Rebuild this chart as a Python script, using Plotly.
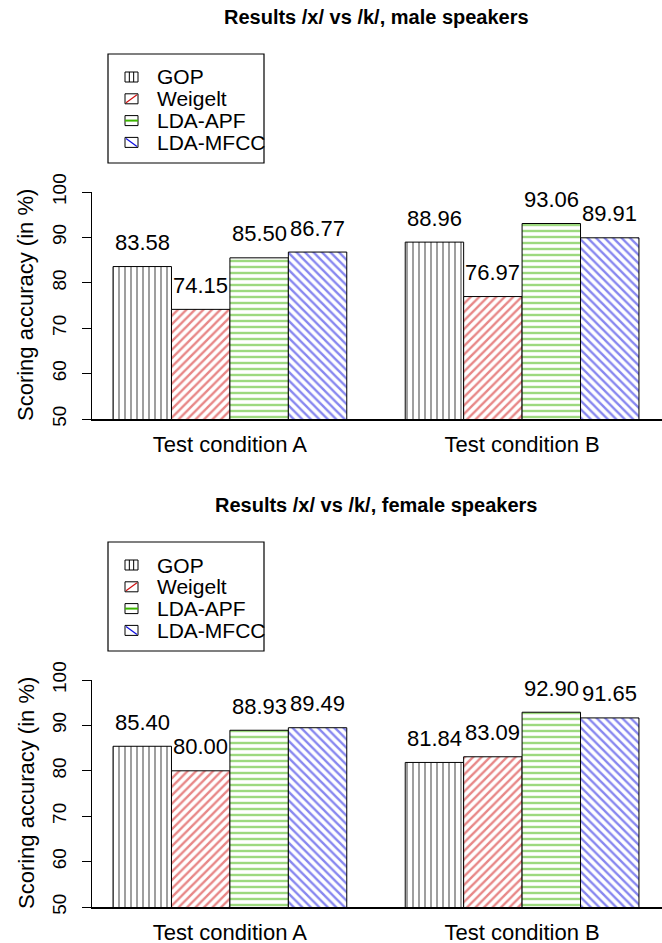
import plotly.graph_objects as go

# ---------------- data ----------------
conditions = ["Test condition A", "Test condition B"]
methods = ["GOP", "Weigelt", "LDA-APF", "LDA-MFCC"]
male_values = {
    "GOP": [83.58, 88.96],
    "Weigelt": [74.15, 76.97],
    "LDA-APF": [85.50, 93.06],
    "LDA-MFCC": [86.77, 89.91],
}
female_values = {
    "GOP": [85.40, 81.84],
    "Weigelt": [80.00, 83.09],
    "LDA-APF": [88.93, 92.90],
    "LDA-MFCC": [89.49, 91.65],
}
titles = ["Results /x/ vs /k/, male speakers", "Results /x/ vs /k/, female speakers"]
y_title = "Scoring accuracy (in %)"
y_ticks = [50, 60, 70, 80, 90, 100]

# ---------------- style ----------------
colors = {"GOP": "black", "Weigelt": "#D01010", "LDA-APF": "#3CB400", "LDA-MFCC": "#1010E0"}
solid = {"GOP": 0.25, "Weigelt": 0.4, "LDA-APF": 0.4, "LDA-MFCC": 0.4}
shapes_pat = {"GOP": "|", "Weigelt": "/", "LDA-APF": "-", "LDA-MFCC": "\\"}
FONT = "Liberation Sans, Arial, sans-serif"
W, H = 662, 943


def px(xp):
    return xp / W


def py(yp):
    return 1 - yp / H


n_m = len(methods)
group_stride = n_m + 1  # R barplot beside=TRUE, space=c(0,1)


def bar_x(g, i):
    return 1 + g * group_stride + i + 0.5


n_units = len(conditions) * group_stride - 1
group_centers = [1 + g * group_stride + n_m / 2 for g in range(len(conditions))]
x_range = [1 - 0.04 * n_units, 1 + n_units + 0.04 * n_units]

fig = go.Figure()
annotations = []
shapes = []

panels = [(male_values, 0), (female_values, 488)]
for p, (vals, off) in enumerate(panels):
    xa = "x" if p == 0 else "x2"
    ya = "y" if p == 0 else "y2"
    for i, m in enumerate(methods):
        xs = [bar_x(g, i) for g in range(len(conditions))]
        fig.add_trace(go.Bar(
            x=xs, y=vals[m], width=1, name=m, showlegend=False,
            xaxis=xa, yaxis=ya,
            marker=dict(color="white",
                        line=dict(color="black", width=1),
                        pattern=dict(shape=shapes_pat[m], fgcolor=colors[m], bgcolor="white",
                                     size=6, solidity=solid[m], fillmode="overlay")),
        ))
        for g in range(len(conditions)):
            annotations.append(dict(
                x=xs[g], y=vals[m][g], xref=xa, yref=ya, text=f"{vals[m][g]:.2f}",
                showarrow=False, yshift=24, yanchor="middle", xanchor="center",
                font=dict(family=FONT, size=22, color="black")))
    # title
    annotations.append(dict(x=px(376), y=py(17 + off), xref="paper", yref="paper",
                            text=f"<b>{titles[p]}</b>", showarrow=False,
                            xanchor="center", yanchor="middle",
                            font=dict(family=FONT, size=20, color="black")))
    # y title
    annotations.append(dict(x=px(26), y=py(305 + off), xref="paper", yref="paper",
                            text=y_title, textangle=-90, showarrow=False,
                            xanchor="center", yanchor="middle",
                            font=dict(family=FONT, size=22, color="black")))
    # legend box
    shapes.append(dict(type="rect", xref="paper", yref="paper",
                       x0=px(108), x1=px(264), y0=py(54 + off), y1=py(163 + off),
                       line=dict(color="black", width=1.2), fillcolor="white", layer="below"))
    for i, m in enumerate(methods):
        cy = 77 + off + i * 21.8
        x0s, x1s, y0s, y1s = 125, 138, cy - 5, cy + 5
        shapes.append(dict(type="rect", xref="paper", yref="paper",
                           x0=px(x0s), x1=px(x1s), y0=py(y1s), y1=py(y0s),
                           line=dict(color="black", width=1), fillcolor="white"))
        c = colors[m]
        sp = shapes_pat[m]
        if sp == "|":
            for k in (1, 2):
                xx = x0s + k * (x1s - x0s) / 3
                shapes.append(dict(type="line", xref="paper", yref="paper",
                                   x0=px(xx), x1=px(xx), y0=py(y0s), y1=py(y1s),
                                   line=dict(color=c, width=1)))
        elif sp == "-":
            shapes.append(dict(type="line", xref="paper", yref="paper",
                               x0=px(x0s), x1=px(x1s), y0=py(cy), y1=py(cy),
                               line=dict(color=c, width=2)))
        elif sp == "/":
            shapes.append(dict(type="line", xref="paper", yref="paper",
                               x0=px(x0s + 1), x1=px(x1s - 1), y0=py(y1s - 1), y1=py(y0s + 1),
                               line=dict(color=c, width=1.2)))
        else:
            shapes.append(dict(type="line", xref="paper", yref="paper",
                               x0=px(x0s + 1), x1=px(x1s - 1), y0=py(y0s + 1), y1=py(y1s - 1),
                               line=dict(color=c, width=1.2)))
        annotations.append(dict(x=px(155), y=py(cy), xref="paper", yref="paper",
                                text=m, showarrow=False, xanchor="left", yanchor="middle",
                                font=dict(family=FONT, size=21, color="black")))

xdom = [px(92), 1.0]
ydom1 = [py(419), py(192)]
ydom2 = [py(907), py(680)]
x_range_full = [x_range[0], x_range[0] + (x_range[1] - x_range[0]) * (662 - 92) / (660 - 92)]

xaxis_common = dict(range=x_range_full, domain=xdom, showgrid=False, zeroline=False,
                    showline=True, linecolor="black", linewidth=2,
                    tickvals=group_centers, ticktext=conditions, ticks="",
                    tickfont=dict(family=FONT, size=22, color="black"), ticklabelstandoff=5,
                    automargin=False, fixedrange=True)
yaxis_common = dict(range=[50, 100], showgrid=False, zeroline=False,
                    showline=True, linecolor="black", linewidth=1,
                    tickvals=y_ticks, ticks="outside", ticklen=9, tickcolor="black",
                    tickangle=-90, tickfont=dict(family=FONT, size=19, color="black"),
                    ticklabelstandoff=8, automargin=False, fixedrange=True)

fig.update_layout(
    template="none",
    width=W, height=H,
    margin=dict(l=0, r=0, t=0, b=0, pad=0),
    paper_bgcolor="white", plot_bgcolor="white",
    barmode="overlay",
    hovermode=False,
    xaxis=dict(**xaxis_common, anchor="y"),
    yaxis=dict(**yaxis_common, domain=ydom1, anchor="x"),
    xaxis2=dict(**xaxis_common, anchor="y2"),
    yaxis2=dict(**yaxis_common, domain=ydom2, anchor="x2"),
    annotations=annotations,
    shapes=shapes,
    showlegend=False,
)

fig.write_html("out.html",
               config={"displayModeBar": False},
               post_script="document.body.style.margin='0';document.body.style.overflow='hidden';")
